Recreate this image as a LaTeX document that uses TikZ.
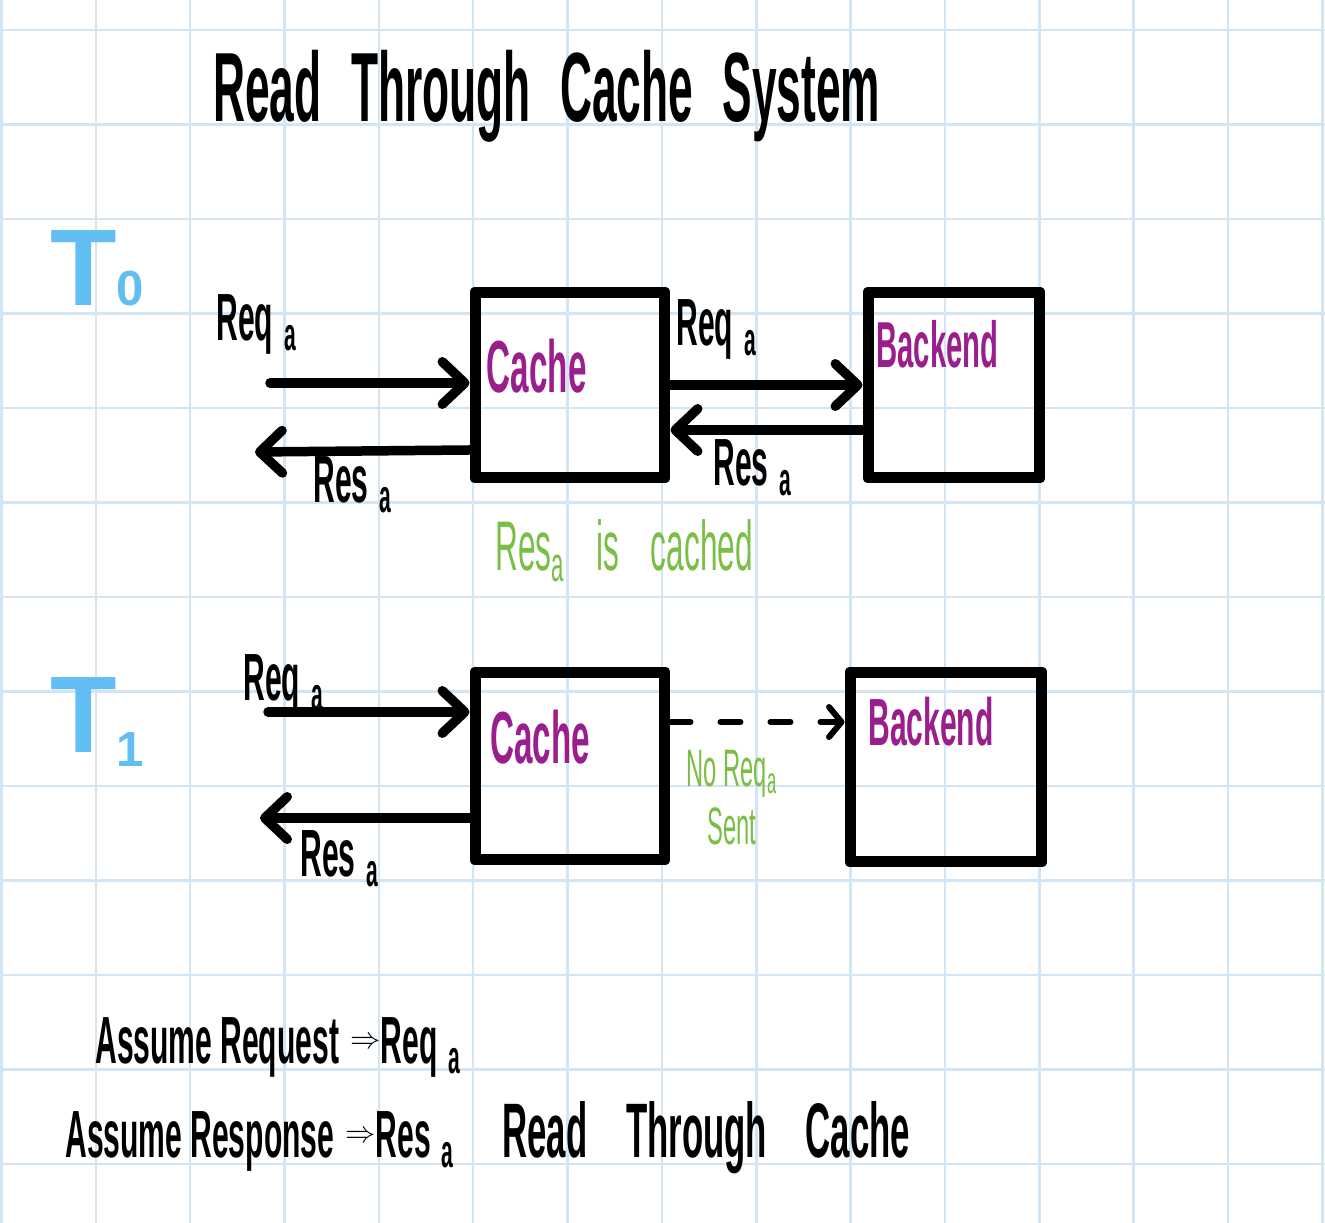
\documentclass[tikz,border=0pt]{standalone}
\usepackage{fontspec}
\setmainfont{Liberation Sans}
\newfontfamily\handfont[FakeStretch=0.45]{Liberation Sans Bold}
\newfontfamily\thinfont[FakeStretch=0.45]{Liberation Sans}
\usetikzlibrary{arrows.meta,positioning}

\definecolor{gridblue}{HTML}{D2E5F5}
\definecolor{tblue}{HTML}{62BEF2}
\definecolor{cachepurple}{HTML}{9A1F8C}
\definecolor{notegreen}{HTML}{79BE45}

\begin{document}
\begin{tikzpicture}[
    x=0.02cm, y=-0.02cm,
    box/.style={rectangle, draw=black, line width=0.22cm, line join=round,
                minimum width=3.8cm, minimum height=3.72cm, inner sep=0pt},
    boxtxt/.style={text=cachepurple, inner sep=0pt,
                   font=\handfont\fontsize{42}{42}\selectfont},
    lbl/.style={inner sep=0pt, anchor=base west,
                font=\handfont\fontsize{38}{38}\selectfont},
    note/.style={text=notegreen, inner sep=0pt,
                 font=\thinfont\fontsize{40}{40}\selectfont},
    tlbl/.style={text=tblue, inner sep=0pt, anchor=base west,
                 font=\bfseries\fontsize{62}{62}\selectfont},
    arr/.style={-{Straight Barb[round, length=0.45cm, width=0.85cm]},
                line width=0.19cm, line cap=round},
    darr/.style={-{Straight Barb[round, length=0.25cm, width=0.6cm]},
                 line width=0.12cm, line cap=round, dash pattern=on 0.4cm off 0.6cm},
  ]
  \fill[white] (0,0) rectangle (1325,1223);
  \useasboundingbox (0,0) rectangle (1325,1223);

  % grid paper
  \foreach \i in {0,...,14}
    \draw[gridblue, line width=0.05cm] (1.4+94.36*\i,0) -- (1.4+94.36*\i,1223);
  \foreach \j in {0,...,12}
    \draw[gridblue, line width=0.05cm] (0,30+94.5*\j) -- (1325,30+94.5*\j);

  \node[lbl, font=\handfont\fontsize{56}{56}\selectfont] (title) at (213,122)
    {Read\hspace{.3em}Through\hspace{.3em}Cache\hspace{.3em}System};

  % T0
  \node[tlbl] (t0) at (50,305) {T{\fontsize{28}{28}\selectfont 0}};
  \node[box] (cache0) at (570,385) {};
  \node[box, minimum width=3.44cm] (backend0) at (954,385) {};
  \node[boxtxt, below right=1.05cm and 0.34cm of cache0.north west] (cachetxt0) {Cache};
  \node[boxtxt, font=\handfont\fontsize{37}{37}\selectfont,
        below right=0.68cm and 0.27cm of backend0.north west] (backendtxt0) {Backend};

  \coordinate (in0) at (270,383);
  \coordinate (out0) at (255,452);
  \draw[arr] (in0) -- (in0 -| cache0.west);
  \draw[arr] ([yshift=-1.3cm]cache0.west) -- (out0);
  \draw[arr] (cache0.east) -- (backend0.west);
  \draw[arr] ([yshift=-0.9cm]backend0.west) -- ([yshift=-0.9cm]cache0.east);

  \node[lbl] (reqin0) at (216,340) {Req\,\textsubscript{a}};
  \node[lbl] (resout0) at (313,502) {Res\,\textsubscript{a}};
  \node[lbl] (reqfw0) at (676,345) {Req\,\textsubscript{a}};
  \node[lbl] (resbk0) at (713,485) {Res\,\textsubscript{a}};
  \node[note, anchor=base west] (cached) at (495,570)
    {Res\textsubscript{a}\hspace{.45em}is\hspace{.45em}cached};

  % T1
  \node[tlbl] (t1) at (50,752) {T{\fontsize{28}{28}\selectfont\raisebox{-8pt}{1}}};
  \node[box, minimum height=3.76cm] (cache1) at (570,766) {};
  \node[box, minimum width=3.84cm, minimum height=3.8cm] (backend1) at (946,767) {};
  \node[boxtxt, below right=0.87cm and 0.41cm of cache1.north west] (cachetxt1) {Cache};
  \node[boxtxt, font=\handfont\fontsize{38}{38}\selectfont,
        below right=0.6cm and 0.47cm of backend1.north west] (backendtxt1) {Backend};

  \coordinate (in1) at (268,712);
  \coordinate (out1) at (260,818);
  \coordinate (nr1) at ([yshift=0.88cm]cache1.east);
  \draw[arr] (in1) -- (in1 -| cache1.west);
  \draw[arr] (out1 -| cache1.west) -- (out1);
  \draw[darr] (nr1) -- (nr1 -| backend1.west);

  \node[lbl] (reqin1) at (243,700) {Req\,\textsubscript{a}};
  \node[lbl] (resout1) at (300,876) {Res\,\textsubscript{a}};
  \node[note, align=center, font=\thinfont\fontsize{30}{33}\selectfont] (nosent) at (732,798)
    {No Req\textsubscript{a}\\Sent};

  % notes at the bottom
  \node[lbl] (assume1) at (95,1063)
    {Assume Request\,\raisebox{8pt}{\fontsize{16}{16}\selectfont$\Rightarrow$}Req\,\textsubscript{a}};
  \node[lbl] (assume2) at (65,1157)
    {Assume Response\,\raisebox{8pt}{\fontsize{16}{16}\selectfont$\Rightarrow$}Res\,\textsubscript{a}};
  \node[lbl, font=\handfont\fontsize{44}{44}\selectfont] (rtc) at (502,1157)
    {Read\hspace{.5em}Through\hspace{.5em}Cache};
\end{tikzpicture}
\end{document}
